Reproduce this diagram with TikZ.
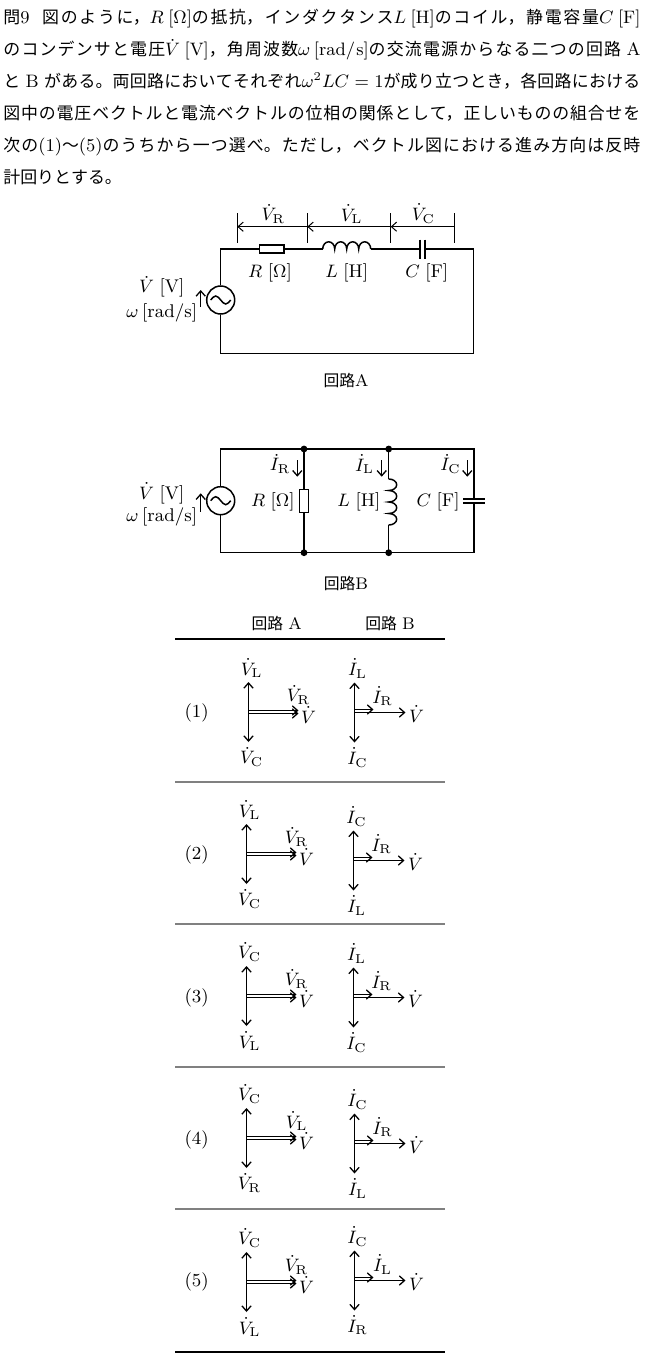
\documentclass[tikz,border=0pt]{standalone}
\usepackage{fontspec}
\newfontfamily\jp[Scale=0.94]{Noto Sans CJK JP}
\usetikzlibrary{arrows.meta}
\XeTeXlinebreaklocale "ja"
\XeTeXlinebreakskip=0pt plus 3pt minus 0.5pt
\newcommand\figfont{\fontsize{9.2pt}{11pt}\selectfont}
\newcommand\capfont{\fontsize{8.4pt}{10pt}\selectfont}
\newcommand\bodyfont{\fontsize{9pt}{16pt}\selectfont}
\newcommand\phA[6]{%
  \coordinate (pa#1) at (#2,#3);
  \coordinate (pa#1u) at (#2,#3-30);
  \coordinate (pa#1d) at (#2,#3+30);
  \coordinate (pa#1s) at (#2,#3-1.5);
  \coordinate (pa#1r) at (#2+50,#3-1.5);
  \coordinate (pa#1t) at (#2,#3+1.5);
  \coordinate (pa#1q) at (#2+50,#3+1.5);
  \draw[dvec] (pa#1d) -- (pa#1u);
  \draw[vec] (pa#1s) -- (pa#1r);
  \draw[vec] (pa#1t) -- (pa#1q);
  \node[lab] (pa#1lu) at (#2+3,#3-44) {$#4$};
  \node[lab] (pa#1ld) at (#2+3,#3+45) {$#5$};
  \node[lab] (pa#1lr) at (#2+50,#3-17) {$#6$};
  \node[lab] (pa#1lv) at (#2+60,#3+3) {$\dot V$};
}
\newcommand\phB[6]{%
  \coordinate (pb#1) at (#2,#3);
  \coordinate (pb#1u) at (#2,#3-30);
  \coordinate (pb#1d) at (#2,#3+30);
  \coordinate (pb#1r) at (#2+51,#3);
  \coordinate (pb#1s) at (#2,#3-3);
  \coordinate (pb#1q) at (#2+19,#3-3);
  \draw[dvec] (pb#1d) -- (pb#1u);
  \draw[vec] (pb#1) -- (pb#1r);
  \draw[vec] (pb#1s) -- (pb#1q);
  \node[lab] (pb#1lu) at (#2+3,#3-44) {$#4$};
  \node[lab] (pb#1ld) at (#2+3,#3+45) {$#5$};
  \node[lab] (pb#1ls) at (#2+28,#3-16) {$#6$};
  \node[lab] (pb#1lv) at (#2+62,#3+1.5) {$\dot V$};
}
\begin{document}
\begin{tikzpicture}[x=0.5pt,y=-0.5pt,
  >={Straight Barb[length=2.6pt,width=4.6pt]},
  wire/.style={line width=0.75pt},
  thinln/.style={line width=0.5pt},
  vec/.style={line width=0.65pt,->},
  dvec/.style={line width=0.65pt,<->},
  lab/.style={inner sep=0pt,font=\figfont},
  srcc/.style={circle,draw,line width=0.75pt,minimum size=14pt,inner sep=0pt},
  plate/.style={line width=0.9pt},
  blackrule/.style={line width=0.7pt,black},
  grayrule/.style={line width=1pt,black!50}]
\path[use as bounding box] (0,0) rectangle (646,1370);
\fill[white] (0,0) rectangle (646,1370);

% ---------------- body text
\node[anchor=north west,inner sep=0pt,text width=318.5pt,align=justify,font=\bodyfont] (body) at (3,9) {%
\noindent\hangindent=9pt\hangafter=1\relax
{\jp 問}9\hspace{0.7em}{\jp 図のように，}$R$\hspace{0.25em}[$\Omega$]{\jp の抵抗，インダクタンス}$L$\hspace{0.25em}[H]{\jp のコイル，静電容量}$C$\hspace{0.25em}[F]\linebreak
{\jp のコンデンサと電圧}$\dot{V}$\hspace{0.25em}[V]{\jp ，角周波数}$\omega$\hspace{0.2em}[rad/s]{\jp の交流電源からなる二つの回路}\hspace{0.3em}A\linebreak
{\jp と}\hspace{0.3em}B\hspace{0.3em}{\jp がある。両回路においてそれぞれ}$\omega^2 LC=1${\jp が成り立つとき，各回路における}\linebreak
{\jp 図中の電圧ベクトルと電流ベクトルの位相の関係として，正しいものの組合せを}\linebreak
{\jp 次の}(1){\jp ～}(5){\jp のうちから一つ選べ。ただし，ベクトル図における進み方向は反時}\linebreak
{\jp 計回りとする。}};

% ---------------- circuit A
\coordinate (aTL) at (220.7,249);
\coordinate (aTR) at (473.3,249);
\coordinate (aBR) at (473.3,353.3);
\coordinate (aBL) at (220.7,353.3);
\node[srcc] (aS) at (220.7,300) {};
\draw[wire] ([xshift=-5pt]aS.center) sin ++(2.5pt,2pt) cos ++(2.5pt,-2pt) sin ++(2.5pt,-2pt) cos ++(2.5pt,2pt);
\node[draw,line width=0.75pt,minimum width=12.4pt,minimum height=4.2pt,inner sep=0pt] (aR) at (271.7,249) {};
\coordinate (aL1) at (322.7,249);
\coordinate (aL2) at (370.7,249);
\draw[wire] (aL1) arc[start angle=180,end angle=0,x radius=3pt,y radius=3.6pt]
  arc[start angle=180,end angle=0,x radius=3pt,y radius=3.6pt]
  arc[start angle=180,end angle=0,x radius=3pt,y radius=3.6pt]
  arc[start angle=180,end angle=0,x radius=3pt,y radius=3.6pt];
\coordinate (aC1) at (420,249);
\coordinate (aC2) at (425,249);
\draw[plate] (420,239.5) -- (420,258.5);
\draw[plate] (425,239.5) -- (425,258.5);
\draw[wire] (aS.north) -- (aTL) -- (aR.west);
\draw[wire] (aR.east) -- (aL1);
\draw[wire] (aL2) -- (aC1);
\draw[wire] (aC2) -- (aTR) -- (aBR) -- (aBL) -- (aS.south);
\foreach \i/\x in {1/237.3,2/307.3,3/390.7,4/454}{
  \coordinate (tk\i) at (\x,226.7);
  \draw[thinln] (\x,213) -- (\x,243);
}
\draw[thinln,->] (tk2) -- (tk1);
\draw[thinln,->] (tk3) -- (tk2);
\draw[thinln,->] (tk4) -- (tk3);
\node[lab,anchor=south] (avR) at (273.3,224) {$\dot V_{\mathrm R}$};
\node[lab,anchor=south] (avL) at (351.7,224) {$\dot V_{\mathrm L}$};
\node[lab,anchor=south] (avC) at (423.3,224) {$\dot V_{\mathrm C}$};
\node[lab] (aRl) at (270,273) {$R$\hspace{0.3em}[$\Omega$]};
\node[lab] (aLl) at (346.7,273) {$L$\hspace{0.3em}[H]};
\node[lab] (aCl) at (426.7,273) {$C$\hspace{0.3em}[F]};
\node[lab,align=center,font=\fontsize{9.2pt}{12.5pt}\selectfont] (aSl) at (161.7,299.5) {$\dot V$\hspace{0.3em}[V]\\$\omega$\hspace{0.2em}[rad/s]};
\coordinate (aAr1) at (200.7,306.7);
\coordinate (aAr2) at (200.7,290);
\draw[vec] (aAr1) -- (aAr2);
\node[lab,font=\capfont] (capA) at (346,380) {{\jp 回路}A};

% ---------------- circuit B
\coordinate (bTL) at (220.7,449);
\coordinate (bTR) at (474,449);
\coordinate (bBR) at (474,552.7);
\coordinate (bBL) at (220.7,552.7);
\coordinate (bJ1t) at (304,449);
\coordinate (bJ1b) at (304,552.7);
\coordinate (bJ2t) at (388.7,449);
\coordinate (bJ2b) at (388.7,552.7);
\node[srcc] (bS) at (220.7,500.7) {};
\draw[wire] ([xshift=-5pt]bS.center) sin ++(2.5pt,2pt) cos ++(2.5pt,-2pt) sin ++(2.5pt,-2pt) cos ++(2.5pt,2pt);
\node[draw,line width=0.75pt,minimum width=4.5pt,minimum height=11.5pt,inner sep=0pt] (bR) at (304,500.8) {};
\coordinate (bL1) at (388.7,479);
\coordinate (bL2) at (388.7,525);
\draw[wire] (bL1) arc[start angle=90,end angle=-90,x radius=4pt,y radius=2.875pt]
  arc[start angle=90,end angle=-90,x radius=4pt,y radius=2.875pt]
  arc[start angle=90,end angle=-90,x radius=4pt,y radius=2.875pt]
  arc[start angle=90,end angle=-90,x radius=4pt,y radius=2.875pt];
\coordinate (bCt) at (474,499.3);
\coordinate (bCb) at (474,503.3);
\draw[plate] (463,499.3) -- (485,499.3);
\draw[plate] (463,503.3) -- (485,503.3);
\draw[wire] (bS.north) -- (bTL) -- (bTR) -- (bCt);
\draw[wire] (bCb) -- (bBR) -- (bBL) -- (bS.south);
\draw[wire] (bJ1t) -- (bR.north);
\draw[wire] (bR.south) -- (bJ1b);
\draw[wire] (bJ2t) -- (bL1);
\draw[wire] (bL2) -- (bJ2b);
\foreach \p in {bJ1t,bJ1b,bJ2t,bJ2b}{\fill (\p) circle[radius=1.7pt];}
\foreach \n/\x in {R/297.3,L/381.7,C/467.3}{
  \coordinate (bi\n1) at (\x,460);
  \coordinate (bi\n2) at (\x,476.7);
  \draw[vec] (bi\n1) -- (bi\n2);
}
\node[lab] (biRl) at (280,464) {$\dot I_{\mathrm R}$};
\node[lab] (biLl) at (364.5,464) {$\dot I_{\mathrm L}$};
\node[lab] (biCl) at (450.5,464) {$\dot I_{\mathrm C}$};
\node[lab,anchor=east] (bRl) at (295,501.7) {$R$\hspace{0.3em}[$\Omega$]};
\node[lab,anchor=east] (bLl) at (380.7,501.7) {$L$\hspace{0.3em}[H]};
\node[lab,anchor=east] (bCl) at (460,501.7) {$C$\hspace{0.3em}[F]};
\node[lab,align=center,font=\fontsize{9.2pt}{11pt}\selectfont] (bSl) at (161.7,504) {$\dot V$\hspace{0.3em}[V]\\$\omega$\hspace{0.2em}[rad/s]};
\coordinate (bAr1) at (200.7,511.7);
\coordinate (bAr2) at (200.7,493.3);
\draw[vec] (bAr1) -- (bAr2);
\node[lab,font=\capfont] (capB) at (346,583) {{\jp 回路}B};

% ---------------- table
\node[lab,font=\capfont] (hA) at (276.7,623) {{\jp 回路}\hspace{0.3em}A};
\node[lab,font=\capfont] (hB) at (390,623) {{\jp 回路}\hspace{0.3em}B};
\draw[blackrule] (175,639) -- (445,639);
\foreach \y in {781.5,924,1066.5,1209}{\draw[grayrule] (175,\y) -- (445,\y);}
\draw[blackrule] (175,1352) -- (445,1352);

\node[lab] (n1) at (196.7,713.3) {(1)};
\node[lab] (n2) at (196.7,855) {(2)};
\node[lab] (n3) at (196.7,998) {(3)};
\node[lab] (n4) at (196.7,1140) {(4)};
\node[lab] (n5) at (196.7,1282) {(5)};

\phA{1}{248.5}{712}{\dot V_{\mathrm L}}{\dot V_{\mathrm C}}{\dot V_{\mathrm R}}
\phB{1}{354.5}{712.5}{\dot I_{\mathrm L}}{\dot I_{\mathrm C}}{\dot I_{\mathrm R}}
\phA{2}{246.5}{854}{\dot V_{\mathrm L}}{\dot V_{\mathrm C}}{\dot V_{\mathrm R}}
\phB{2}{353.5}{860.5}{\dot I_{\mathrm C}}{\dot I_{\mathrm L}}{\dot I_{\mathrm R}}
\phA{3}{246.5}{996}{\dot V_{\mathrm C}}{\dot V_{\mathrm L}}{\dot V_{\mathrm R}}
\phB{3}{353.5}{997.5}{\dot I_{\mathrm L}}{\dot I_{\mathrm C}}{\dot I_{\mathrm R}}
\phA{4}{246.5}{1138}{\dot V_{\mathrm C}}{\dot V_{\mathrm R}}{\dot V_{\mathrm L}}
\phB{4}{354.5}{1143.5}{\dot I_{\mathrm C}}{\dot I_{\mathrm L}}{\dot I_{\mathrm R}}
\phA{5}{246.5}{1282}{\dot V_{\mathrm C}}{\dot V_{\mathrm L}}{\dot V_{\mathrm R}}
\phB{5}{354.5}{1280.5}{\dot I_{\mathrm C}}{\dot I_{\mathrm R}}{\dot I_{\mathrm L}}
\end{tikzpicture}
\end{document}
